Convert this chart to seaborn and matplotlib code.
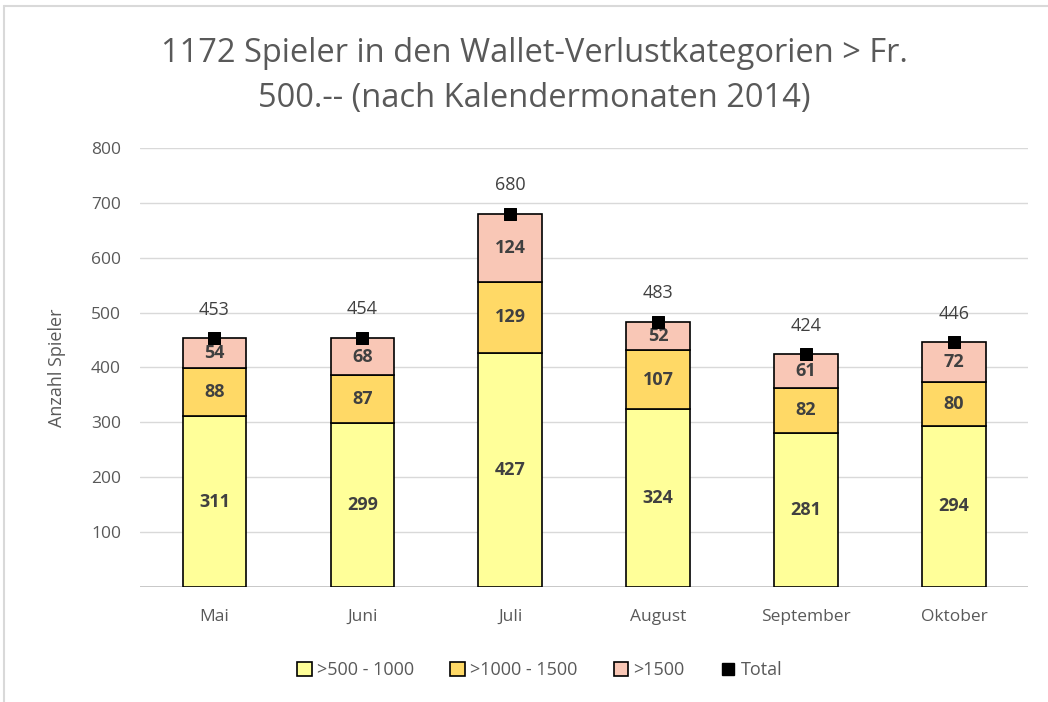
import matplotlib
matplotlib.use("Agg")
import matplotlib.pyplot as plt
import seaborn as sns
import numpy as np
import pandas as pd
from matplotlib.patches import Rectangle
from matplotlib.lines import Line2D

monate = ["Mai", "Juni", "Juli", "August", "September", "Oktober"]
kat_500 = [311, 299, 427, 324, 281, 294]
kat_1000 = [88, 87, 129, 107, 82, 80]
kat_1500 = [54, 68, 124, 52, 61, 72]
total = [453, 454, 680, 483, 424, 446]
legend_labels = [">500 - 1000", ">1000 - 1500", ">1500", "Total"]

sns.set_style("white")
plt.rcParams['font.family'] = ['Open Sans', 'DejaVu Sans']

farben = ["#FFFF99", "#FFD966", "#F9C7B6"]
grau = "#595959"

fig = plt.figure(figsize=(10.48, 7.02), dpi=100)
ax = fig.add_axes([0.134, 0.164, 0.847, 0.625])

unten = np.zeros(len(monate))
for werte, farbe in zip([kat_500, kat_1000, kat_1500], farben):
    sns.barplot(x=monate, y=werte, bottom=unten, color=farbe, width=0.43,
                edgecolor="black", linewidth=1.2, saturation=1, ax=ax, zorder=3)
    for i, v in enumerate(werte):
        ax.text(i, unten[i] + v / 2, str(v), ha="center", va="center",
                fontsize=13, fontweight="bold", color="#404040", zorder=5)
    unten = unten + np.array(werte)

sns.scatterplot(x=monate, y=total, marker="s", color="black", s=80,
                edgecolor="black", ax=ax, zorder=6, legend=False)
for i, v in enumerate(total):
    ax.text(i, v + 36, str(v), ha="center", va="bottom", fontsize=13, color="#404040")

ax.set_ylim(0, 800)
ax.set_xlim(-0.5, 5.5)
ax.set_yticks(range(100, 801, 100))
ax.yaxis.grid(True, color="#D9D9D9", linewidth=1)
ax.axhline(0, color="#BFBFBF", linewidth=1.2, zorder=2)
for s in ax.spines.values():
    s.set_visible(False)
ax.tick_params(axis="both", length=0, labelsize=12.5, labelcolor=grau)
ax.tick_params(axis="x", pad=16)
ax.tick_params(axis="y", pad=14)
ax.set_ylabel("Anzahl Spieler", fontsize=13, color=grau, labelpad=18)

fig.text(0.51, 0.892, "1172 Spieler in den Wallet-Verlustkategorien > Fr.\n500.-- (nach Kalendermonaten 2014)",
         ha="center", va="center", fontsize=23.5, color=grau, linespacing=1.5)

handles = [Rectangle((0, 0), 1, 1, facecolor=c, edgecolor="black", linewidth=1.2) for c in farben]
handles.append(Line2D([], [], marker="s", color="black", linestyle="none", markersize=9))
fig.legend(handles, legend_labels, loc="center", bbox_to_anchor=(0.515, 0.045), ncol=4,
           frameon=False, fontsize=13, labelcolor=grau, handlelength=0.8, handleheight=0.8,
           handletextpad=0.3, columnspacing=2.0)

# duenner grauer Rahmen oben und links
fig.add_artist(Line2D([0.004, 1], [0.992, 0.992], color="#D9D9D9", linewidth=1.5, transform=fig.transFigure))
fig.add_artist(Line2D([0.004, 0.004], [0.0, 0.992], color="#D9D9D9", linewidth=1.5, transform=fig.transFigure))

fig.savefig("out.png", dpi=100)
